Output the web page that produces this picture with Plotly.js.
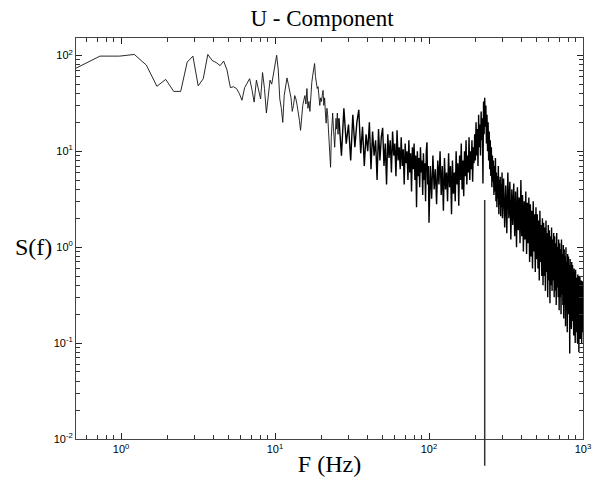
<!DOCTYPE html>
<html><head><meta charset="utf-8">
<script src="https://cdn.plot.ly/plotly-3.0.1.min.js"></script>
<style>html,body{margin:0;padding:0;background:#fff}#chart{width:592px;height:481px}</style>
</head><body><div id="chart"></div>
<script>
// Low-frequency part: frequencies (Hz) and spectral values
const lowFreq = [0.49,0.73,0.98,1.22,1.46,1.71,1.95,2.20,2.44,2.69,2.93,3.17,3.42,3.66,3.91,4.15,4.40,4.64,4.88,5.13,5.37,5.62,5.86,6.10,6.35,6.59,6.84,7.08,7.32,7.57,7.81,8.06,8.30,8.54,8.79,9.03,9.28,9.52,9.77,10.01,10.25,10.5,10.74,10.99,11.23,11.47,11.72,11.96,12.2,12.45,12.7,12.94,13.18,13.43,13.67,13.92,14.16,14.4,14.65,14.89,15.14,15.38,15.63,15.87,16.11,16.36,16.6,16.85,17.09,17.33,17.58,17.82,18.07,18.31,18.55,18.8,19.04,19.29,19.53,19.78,20.02,20.26,20.51,20.75,21.0,21.24,21.48,21.73,21.97,22.22,22.46,22.71,22.95,23.2,23.44,23.68,23.93,24.17,24.41,24.66,24.9,25.15,25.39,25.64];
const lowPsd  = [71,98,98,102,79,47.5,56,42,42,85,98,48,57,102,88,84,78,87,70,46,47,45,40,34,46,52,57,44,32.5,55,45,35,66,45,25,38,55,50,64,80,100,70,35,28,20,38,48,58,50,43,36,26,30,38,35,30,26,21,16.5,24,30,34,38,31,45,28,33,26,40,52,62,70,82,60,50,45,47,38,30,36,33,38,43,30,36,25,19.6,28,24,17,12,9,6.8,14,19,25,18,14,11,16,22,17,25,15];

// Mid band 26-100 Hz (1 Hz bins)
const midStart = 26, midStep = 1;
const midPsd = [22,9,28,12,19,8,24,11,20,27,9.5,18,7,15,10,20,6.5,16,9,13,5,17,8,14,17.5,7,12,4.5,15,8.5,13,6,16,9,12,5.5,16.5,8,11,6.5,14,7,10.5,4.5,12,7.5,10,5,13,6,9.5,3.8,11,6.5,12,5,9,2.6,10,5.5,8.5,4.2,11,6,8,3.5,9.5,5,7.5,3,10,12.4,4.5,7,1.8];

// Peak band 102-300 Hz (2 Hz bins)
const peakStart = 102, peakStep = 2;
const peakPsd = [7,3.2,9,4,6.5,2.8,8,4.5,10,3.5,7,2.4,8.5,4,6,3,9.5,4.2,7,2.2,8,3.6,6,3,10,4.5,7.5,2.7,9,5,12,4,8,3.4,10,5.5,13,4.5,9,6,14,5,10,6.5,13,4.8,11,7.5,15,8,20,9,17,7,24,11,19,9,26,13,22,4.6,33,15,36,18,30,12,24,10,20,8,16,6.5,13,5.5,11,4.2,9,4.8,8,3.5,7,3.8,8.5,3,6,2.6,5.5,3.2,7,2.2,5,2.8,5.4,2.1,4.5,2.6,6,2];

// High band 305-1000 Hz (5 Hz bins)
const highStart = 305, highStep = 5;
const highPsd = [
5.2,1.6,4.4,1.4,6.0,2.0,4.8,1.2,4.0,1.7,
4.6,1.3,3.8,1.0,4.2,1.5,3.3,1.1,5.0,1.3,
3.5,0.9,3.0,1.2,3.8,0.85,2.9,1.1,3.3,0.7,
2.8,0.8,2.4,0.6,3.0,0.9,2.2,0.55,2.6,0.75,
2.2,0.6,1.9,0.45,2.4,0.7,1.7,0.5,2.0,0.4,
1.8,0.5,1.6,0.35,1.9,0.55,1.4,0.3,1.7,0.45,
1.5,0.26,1.3,0.4,1.6,0.35,1.2,0.45,1.4,0.3,
1.3,0.35,1.1,0.25,1.4,0.38,1.0,0.3,1.2,0.22,
1.1,0.3,0.95,0.2,1.2,0.32,0.85,0.25,1.05,0.18,
0.95,0.25,0.8,0.15,1.0,0.22,0.7,0.13,0.85,0.2,
0.8,0.2,0.65,0.078,0.75,0.18,0.6,0.14,0.7,0.17,
0.65,0.16,0.55,0.12,0.6,0.15,0.5,0.1,0.58,0.14,
0.55,0.13,0.48,0.1,0.52,0.14,0.45,0.08,0.5,0.12,
0.48,0.11,0.42,0.13,0.45,0.1,0.4,0.12,0.44,0.13];

// Marker line
const cutoffFreq = 230;
const cutoffTop = 3.1;

// Axis ticks
const xTickVals = [1, 10, 100, 1000];
const xTickText = ['10<sup>0</sup>','10<sup>1</sup>','10<sup>2</sup>','10<sup>3</sup>'];
const yTickVals = [0.01, 0.1, 1, 10, 100];
const yTickText = ['10<sup>-2</sup>','10<sup>-1</sup>','10<sup>0</sup>','10<sup>1</sup>','10<sup>2</sup>'];

const xRange = [Math.log10(0.51), 3];
const yRange = [-2, 2.18];

// Low-frequency trace (thin line)
const lx = lowFreq.slice(), ly = lowPsd.slice();
lx.push(midStart); ly.push(midPsd[0]);
// Dense trace (mid, peak and high bands)
const dx = [], dy = [];
midPsd.forEach((v, i) => { dx.push(midStart + i * midStep); dy.push(v); });
peakPsd.forEach((v, i) => { dx.push(peakStart + i * peakStep); dy.push(v); });
highPsd.forEach((v, i) => { dx.push(highStart + i * highStep); dy.push(v); });

const serif = 'Liberation Serif, Times New Roman, serif';
const tickFont = {family: 'Liberation Sans, Arial, sans-serif', size: 11, color: '#000'};

const axisCommon = {
  type: 'log', showgrid: false, zeroline: false,
  showline: true, linecolor: '#444', linewidth: 1, mirror: 'ticks',
  ticks: 'inside', ticklen: 6, tickcolor: '#222', tickwidth: 1,
  tickmode: 'array', tickfont: tickFont, automargin: false,
  minor: {ticks: 'inside', ticklen: 4, tickcolor: '#333', tickwidth: 1, dtick: 'D1', showgrid: false}
};

const layout = {
  width: 592, height: 481,
  margin: {l: 76, r: 9, t: 38, b: 42},
  paper_bgcolor: '#fff', plot_bgcolor: '#fff',
  showlegend: false,
  title: {text: 'U - Component', font: {family: serif, size: 23, color: '#000'},
          xref: 'container', x: 0.544, xanchor: 'center', yref: 'container', y: 0.963, yanchor: 'middle'},
  xaxis: Object.assign({}, axisCommon, {range: xRange, tickvals: xTickVals, ticktext: xTickText,
          title: {text: 'F (Hz)', font: {family: serif, size: 24, color: '#000'}, standoff: 0}}),
  yaxis: Object.assign({}, axisCommon, {range: yRange, tickvals: yTickVals, ticktext: yTickText}),
  annotations: [{text: 'S(f)', xref: 'paper', yref: 'paper', x: -0.083, y: 0.479,
    xanchor: 'center', yanchor: 'middle', showarrow: false,
    font: {family: serif, size: 24, color: '#000'}}],
  shapes: [{type: 'line', xref: 'x', yref: 'paper',
    x0: cutoffFreq, x1: cutoffFreq,
    y0: -0.067, y1: (Math.log10(cutoffTop) - yRange[0]) / (yRange[1] - yRange[0]),
    line: {color: '#333', width: 1.5}}]
};

Plotly.newPlot('chart', [
  {x: lx, y: ly, type: 'scatter', mode: 'lines', line: {color: '#111', width: 0.9}, hoverinfo: 'skip'},
  {x: dx, y: dy, type: 'scatter', mode: 'lines', line: {color: '#000', width: 1.4}, hoverinfo: 'skip'}
], layout, {staticPlot: true, displayModeBar: false});
</script>
</body></html>
